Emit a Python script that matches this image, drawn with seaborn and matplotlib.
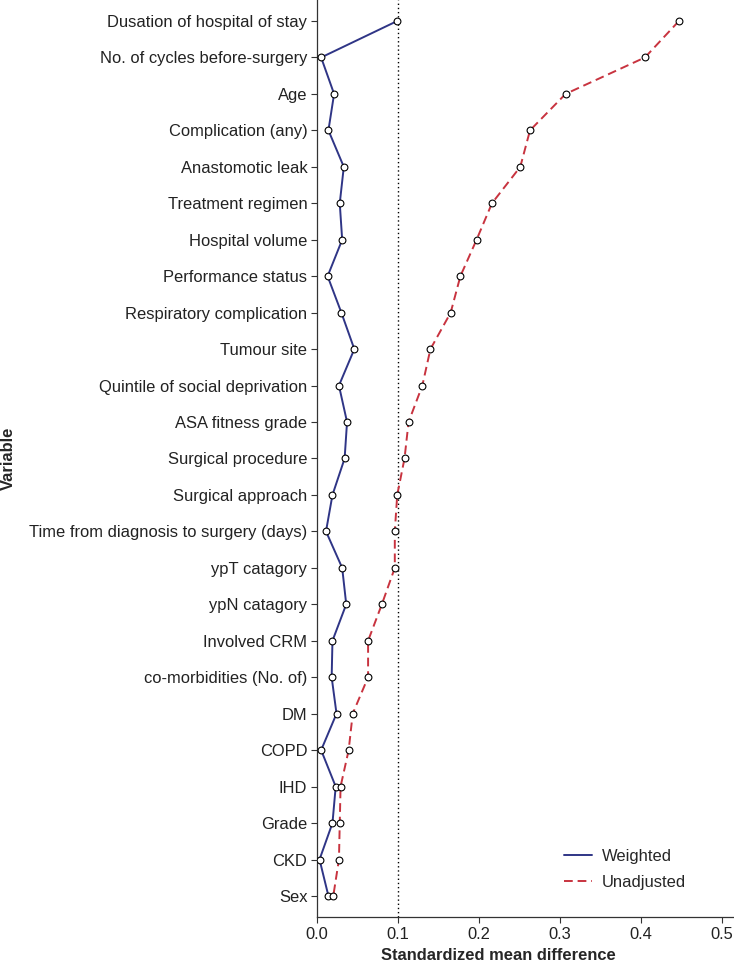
import matplotlib
matplotlib.use("Agg")
import matplotlib.pyplot as plt
import seaborn as sns
import pandas as pd
import numpy as np

variables = [
    "Dusation of hospital of stay", "No. of cycles before-surgery", "Age",
    "Complication (any)", "Anastomotic leak", "Treatment regimen",
    "Hospital volume", "Performance status", "Respiratory complication",
    "Tumour site", "Quintile of social deprivation", "ASA fitness grade",
    "Surgical procedure", "Surgical approach",
    "Time from diagnosis to surgery (days)", "ypT catagory", "ypN catagory",
    "Involved CRM", "co-morbidities (No. of)", "DM", "COPD", "IHD", "Grade",
    "CKD", "Sex",
]
weighted = [0.099, 0.005, 0.021, 0.014, 0.033, 0.028, 0.031, 0.013, 0.030,
            0.046, 0.027, 0.037, 0.034, 0.019, 0.011, 0.031, 0.036, 0.019,
            0.018, 0.024, 0.005, 0.023, 0.019, 0.003, 0.014]
unadjusted = [0.447, 0.405, 0.307, 0.263, 0.251, 0.216, 0.197, 0.177, 0.165,
              0.140, 0.130, 0.113, 0.108, 0.099, 0.096, 0.096, 0.080, 0.063,
              0.063, 0.044, 0.039, 0.029, 0.028, 0.027, 0.020]
series_names = ["Weighted", "Unadjusted"]
xticks = [0.0, 0.1, 0.2, 0.3, 0.4, 0.5]

sns.set_style("ticks")
plt.rcParams["font.family"] = ["Liberation Sans", "DejaVu Sans"]
FS = 11.9

pos = np.arange(len(variables))
df = pd.DataFrame({
    "Variable": list(variables) * 2,
    "pos": list(pos) * 2,
    "SMD": weighted + unadjusted,
    "Series": [series_names[0]] * len(variables) + [series_names[1]] * len(variables),
})

fig = plt.figure(figsize=(7.34, 9.69), dpi=100)
ax = fig.add_axes([0.432, 0.0537, 0.568, 0.9463])

colors = {"Weighted": "#2f3586", "Unadjusted": "#c8333f"}
styles = {"Weighted": "-", "Unadjusted": (0, (4.5, 2.5))}
for name in series_names:
    sub = df[df["Series"] == name]
    sns.lineplot(data=sub, x="SMD", y="pos", sort=False, estimator=None,
                 color=colors[name], linestyle=styles[name], linewidth=1.4,
                 label=name, ax=ax, zorder=2)
    sns.scatterplot(data=sub, x="SMD", y="pos", s=24, facecolor="white",
                    edgecolor="black", linewidth=0.8, ax=ax, zorder=3,
                    legend=False)

ax.axvline(0.1, color="black", linestyle=(0, (1, 2)), linewidth=1.0, zorder=1)

ax.set_ylim(len(variables) - 1 + 0.576, -0.576)
ax.set_xlim(0, 0.515)
ax.set_yticks(pos)
ax.set_yticklabels(variables, fontsize=FS, color="#222222")
ax.set_xticks(xticks)
ax.set_xticklabels([f"{t:.1f}" for t in xticks], fontsize=FS, color="#222222")
ax.tick_params(axis="both", length=4, width=0.8, pad=3, color="#333333")
for sp in ["left", "bottom"]:
    ax.spines[sp].set_linewidth(0.9)
    ax.spines[sp].set_color("#333333")
sns.despine(ax=ax)

ax.set_xlabel("Standardized mean difference", fontsize=FS, fontweight="bold")
ax.xaxis.set_label_coords(0.434, -0.034)
ax.set_ylabel("Variable", fontsize=FS, fontweight="bold")
ax.yaxis.set_label_coords(-0.722, 0.5)

leg = ax.legend(loc="lower right", bbox_to_anchor=(0.921, 0.0136), frameon=False,
                fontsize=FS, handlelength=1.7, handletextpad=0.6, labelspacing=0.65)

fig.savefig("out.png", dpi=100)
